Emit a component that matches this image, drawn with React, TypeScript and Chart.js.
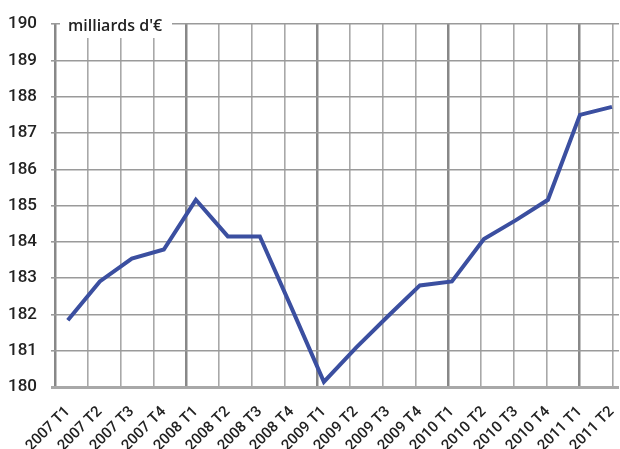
import React, { useEffect, useRef } from "react";
import { Chart, registerables } from "chart.js";

Chart.register(...registerables);

const quarterLabels = [
  "2007 T1", "2007 T2", "2007 T3", "2007 T4",
  "2008 T1", "2008 T2", "2008 T3", "2008 T4",
  "2009 T1", "2009 T2", "2009 T3", "2009 T4",
  "2010 T1", "2010 T2", "2010 T3", "2010 T4",
  "2011 T1", "2011 T2",
];
const values = [
  181.84, 182.91, 183.54, 183.79,
  185.16, 184.15, 184.15, 182.16,
  180.14, 181.08, 181.95, 182.8,
  182.91, 184.08, 184.6, 185.16,
  187.5, 187.72,
];
const yMin = 180;
const yMax = 190;
const unitLabel = "milliards d'€";

const titlePlugin = {
  id: "unitTitle",
  afterDraw(chart: any) {
    const ctx = chart.ctx;
    ctx.save();
    ctx.fillStyle = "#ffffff";
    ctx.fillRect(60, 10, 112, 28);
    ctx.fillStyle = "#222222";
    ctx.font = "600 16px 'Open Sans'";
    ctx.textBaseline = "alphabetic";
    ctx.textAlign = "left";
    ctx.fillText(unitLabel, 68, 31);
    ctx.restore();
  },
};

export default function App() {
  const ref = useRef<HTMLCanvasElement>(null);
  useEffect(() => {
    document.body.style.margin = "0";
    const canvas = ref.current!;
    const chart = new Chart(canvas, {
      type: "line",
      data: {
        datasets: [
          {
            data: values.map((v, i) => ({ x: i, y: v })),
            borderColor: "#3b4fa0",
            borderWidth: 4,
            pointRadius: 0,
            tension: 0,
            fill: false,
          },
        ],
      },
      options: {
        animation: false,
        responsive: false,
        maintainAspectRatio: false,
        layout: { padding: { top: 23, right: 1, left: 0, bottom: 0 } },
        plugins: { legend: { display: false }, tooltip: { enabled: false } },
        scales: {
          x: {
            type: "linear",
            position: "bottom",
            min: -0.4,
            max: 17.22,
            afterBuildTicks: (axis: any) => {
              axis.ticks = quarterLabels.map((_, i) => ({ value: i }));
            },
            afterFit: (s: any) => {
              s.height = 62;
              s.paddingLeft = 0;
              s.paddingRight = 0;
            },
            grid: { display: false },
            border: { display: false },
            ticks: {
              autoSkip: false,
              maxRotation: 45,
              minRotation: 45,
              padding: 8,
              color: "#222",
              font: { family: "Roboto", size: 15, weight: "500" },
              callback: (v: any) => quarterLabels[Math.round(v)] ?? "",
            },
          },
          x2: {
            type: "linear",
            position: "top",
            min: 0,
            max: 17.2,
            afterBuildTicks: (axis: any) => {
              axis.ticks = quarterLabels.map((_, i) => ({ value: i }));
            },
            afterFit: (s: any) => {
              s.height = 0;
              s.paddingLeft = 0;
              s.paddingRight = 0;
            },
            ticks: { display: false },
            border: { display: false },
            grid: {
              drawTicks: false,
              color: (c: any) => (c.tick && c.tick.value % 4 === 0 ? "#888888" : "#a8a8a8"),
              lineWidth: (c: any) => (c.tick && c.tick.value % 4 === 0 ? 2.5 : 1.6),
            },
          },
          y: {
            type: "linear",
            min: yMin,
            max: yMax,
            afterFit: (s: any) => {
              s.width = 55;
            },
            border: { display: false },
            grid: {
              tickLength: 4,
              color: (c: any) => (c.tick && c.tick.value === yMin ? "#a8a8a8" : "#9a9a9a"),
              lineWidth: (c: any) => (c.tick && c.tick.value === yMin ? 3 : 1.6),
            },
            ticks: {
              stepSize: 1,
              padding: 14,
              color: "#222",
              font: { family: "Roboto", size: 17, weight: "500" },
            },
          },
        },
      },
      plugins: [titlePlugin],
    });
    return () => chart.destroy();
  }, []);
  return <canvas ref={ref} width={620} height={449} style={{ display: "block" }} />;
}
